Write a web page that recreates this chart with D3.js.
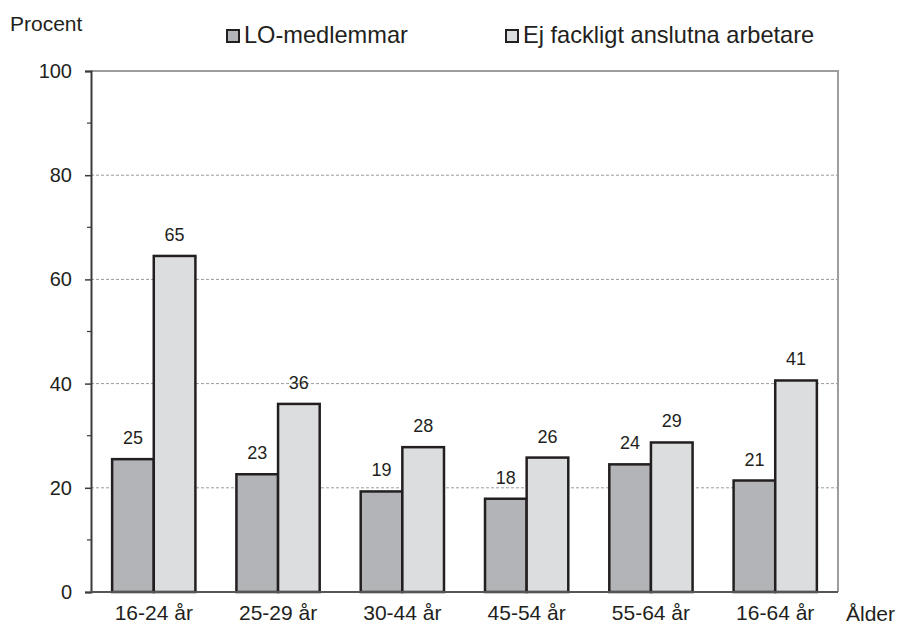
<!DOCTYPE html>
<html><head><meta charset="utf-8">
<script src="https://cdn.jsdelivr.net/npm/d3@7"></script>
<style>body{margin:0;background:#fff}svg{display:block}text{font-family:"Liberation Sans",Arial,sans-serif;fill:#231f20}</style>
</head><body>
<script>
const categories = ["16-24 år","25-29 år","30-44 år","45-54 år","55-64 år","16-64 år"];
const seriesNames = ["LO-medlemmar","Ej fackligt anslutna arbetare"];
const loValues = [25.5, 22.6, 19.3, 17.9, 24.5, 21.4];
const ejValues = [64.5, 36.1, 27.8, 25.8, 28.7, 40.6];
const loLabels = ["25","23","19","18","24","21"];
const ejLabels = ["65","36","28","26","29","41"];
const yTicks = [0,20,40,60,80,100];
const yMinorTicks = [10,30,50,70,90];
const colors = ["#b3b4b7","#dcdddf"];

const W=897,H=626;
const m={l:91,r:59,t:71,b:34};
const FF="'Liberation Sans',Arial,sans-serif";
const svg=d3.select("body").append("svg").attr("width",W).attr("height",H);
const x=d3.scaleBand().domain(categories).range([m.l,W-m.r]).paddingInner(0.33).paddingOuter(0.17);
const x1=d3.scaleBand().domain(seriesNames).range([0,x.bandwidth()]);
const y=d3.scaleLinear().domain([0,100]).range([H-m.b,m.t]);

// grid
svg.append("g").selectAll("line").data([20,40,60,80]).join("line")
 .attr("x1",m.l).attr("x2",W-m.r).attr("y1",d=>y(d)).attr("y2",d=>y(d))
 .attr("stroke","#9a9a9a").attr("stroke-width",1).attr("stroke-dasharray","3,2");
// frame top/right
svg.append("path").attr("d",`M${m.l},${y(100)}H${W-m.r}V${y(0)}`).attr("fill","none").attr("stroke","#9d9d9f").attr("stroke-width",2);

const data=categories.map((c,i)=>({c,vals:[{s:seriesNames[0],v:loValues[i],l:loLabels[i]},{s:seriesNames[1],v:ejValues[i],l:ejLabels[i]}]}));
const g=svg.append("g").selectAll("g").data(data).join("g").attr("transform",d=>`translate(${x(d.c)},0)`);
g.selectAll("rect").data(d=>d.vals).join("rect")
 .attr("x",d=>x1(d.s)).attr("width",x1.bandwidth()).attr("y",d=>y(d.v)).attr("height",d=>y(0)-y(d.v))
 .attr("fill",(d,i)=>colors[i]).attr("stroke","#231f20").attr("stroke-width",2.5);
g.selectAll("text").data(d=>d.vals).join("text")
 .attr("x",d=>x1(d.s)+x1.bandwidth()/2).attr("y",d=>y(d.v)-15).attr("text-anchor","middle")
 .attr("font-size",18).text(d=>d.l);

// y axis
const ya=svg.append("g").attr("transform",`translate(${m.l},0)`)
 .call(d3.axisLeft(y).tickValues(yTicks).tickSize(6).tickPadding(13).tickFormat(d3.format("d")));
ya.select(".domain").attr("stroke","#3a3a3a").attr("stroke-width",2);
ya.selectAll(".tick line").attr("stroke","#3a3a3a").attr("stroke-width",1.5);
ya.selectAll("text").attr("font-size",20).style("font-family",FF).attr("fill","#231f20");
svg.append("g").selectAll("line").data(yMinorTicks).join("line")
 .attr("x1",m.l-4).attr("x2",m.l).attr("y1",d=>y(d)).attr("y2",d=>y(d)).attr("stroke","#3a3a3a").attr("stroke-width",1.2);

// x axis
const xa=svg.append("g").attr("transform",`translate(0,${y(0)})`)
 .call(d3.axisBottom(x).tickSize(0).tickPadding(13));
xa.select(".domain").attr("stroke","#555").attr("stroke-width",2).attr("d",`M${m.l},0H${W-m.r}`);
xa.selectAll("text").attr("font-size",21).style("font-family",FF).attr("fill","#231f20");

svg.append("text").attr("x",10).attr("y",31).attr("font-size",21).text("Procent");
svg.append("text").attr("x",846).attr("y",621).attr("font-size",21).text("Ålder");

// legend
const legX=[226,505];
const lg=svg.append("g").selectAll("g").data(seriesNames).join("g").attr("transform",(d,i)=>`translate(${legX[i]},0)`);
lg.append("rect").attr("x",1).attr("y",30).attr("width",12).attr("height",12).attr("fill",(d,i)=>colors[i]).attr("stroke","#231f20").attr("stroke-width",2);
lg.append("text").attr("x",18).attr("y",43).attr("font-size",23.6).text(d=>d);
</script>
</body></html>
